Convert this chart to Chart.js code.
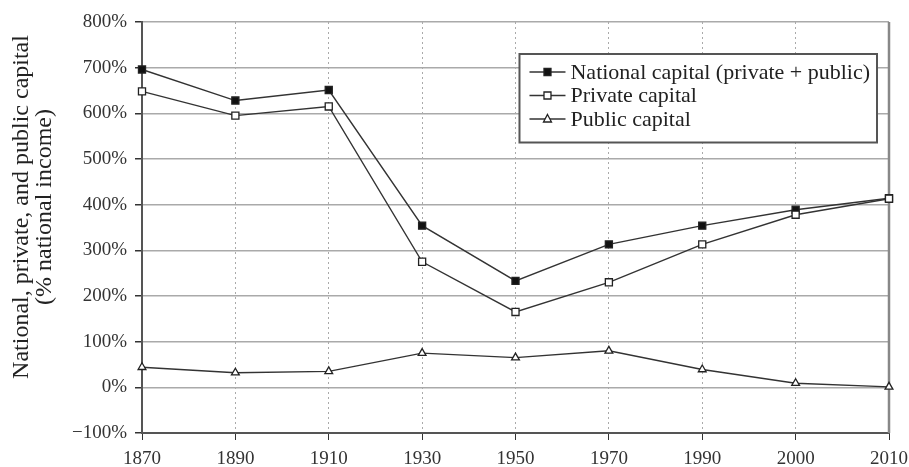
<!DOCTYPE html>
<html>
<head>
<meta charset="UTF-8">
<title>National, private and public capital</title>
<script src="https://cdn.jsdelivr.net/npm/chart.js@4.4.1/dist/chart.umd.min.js"></script>
<style>
	html, body { margin: 0; padding: 0; background: #fff; }
</style>
</head>
<body>
<canvas id="myChart" width="909" height="467"></canvas>
<script>
	// values (% of national income)
	let years = ['1870', '1890', '1910', '1930', '1950', '1970', '1990', '2000', '2010'];
	let national = [696, 628, 651, 354, 233, 313, 354, 389, 414];
	let privateCap = [648, 595, 615, 275, 165, 230, 313, 378, 413];
	let publicCap = [44, 32, 35, 75, 65, 80, 39, 9, 1];
	let seriesNames = ['National capital (private + public)', 'Private capital', 'Public capital'];
	let yTitle = ['National, private, and public capital', '(% national income)'];

	let serif = "'Liberation Serif', 'DejaVu Serif', serif";
	let ink = '#333';

	function drawMarker(ctx, style, x, y, filled) {
		ctx.save();
		ctx.lineWidth = 1.3;
		ctx.strokeStyle = '#222';
		ctx.fillStyle = filled ? '#111' : '#fff';
		ctx.beginPath();
		if (style == 'triangle') {
			ctx.moveTo(x, y - 4.5);
			ctx.lineTo(x + 4, y + 3);
			ctx.lineTo(x - 4, y + 3);
			ctx.closePath();
		} else {
			ctx.rect(x - 3.5, y - 3.5, 7, 7);
		}
		ctx.fill();
		ctx.stroke();
		ctx.restore();
	}

	// right edge of the frame (under the marks) and the rotated y title
	let frame = {
		id: 'frame',
		beforeDatasetsDraw(chart) {
			let ctx = chart.ctx;
			let a = chart.chartArea;
			ctx.save();
			ctx.strokeStyle = '#888';
			ctx.lineWidth = 2.5;
			ctx.beginPath();
			ctx.moveTo(a.right, a.top);
			ctx.lineTo(a.right, a.bottom);
			ctx.stroke();

			ctx.translate(22, 207);
			ctx.rotate(-Math.PI / 2);
			ctx.fillStyle = '#222';
			ctx.textAlign = 'center';
			ctx.textBaseline = 'middle';
			ctx.font = '24px ' + serif;
			ctx.fillText(yTitle[0], 0, 0);
			ctx.fillText(yTitle[1], 0, 23);
			ctx.restore();
		}
	};

	// the boxed legend inside the plot
	let boxLegend = {
		id: 'boxLegend',
		afterDatasetsDraw(chart) {
			let ctx = chart.ctx;
			let a = chart.chartArea;
			ctx.save();
			ctx.font = '22px ' + serif;
			let w = 0;
			chart.data.datasets.forEach(function(ds) {
				w = Math.max(w, ctx.measureText(ds.label).width);
			});
			let right = a.right - 12;
			let top = a.top + 32;
			let left = right - w - 58;
			let lineH = 23.5;
			let h = lineH * 3 + 18;
			ctx.fillStyle = '#fff';
			ctx.fillRect(left, top, right - left, h);
			ctx.strokeStyle = '#555';
			ctx.lineWidth = 2;
			ctx.strokeRect(left, top, right - left, h);

			chart.data.datasets.forEach(function(ds, i) {
				let y = top + 18 + i * lineH;
				ctx.strokeStyle = ink;
				ctx.lineWidth = 1.3;
				ctx.beginPath();
				ctx.moveTo(left + 10, y);
				ctx.lineTo(left + 46, y);
				ctx.stroke();
				drawMarker(ctx, ds.pointStyle, left + 28, y, ds.pointBackgroundColor == '#111');
				ctx.fillStyle = '#222';
				ctx.textBaseline = 'middle';
				ctx.textAlign = 'left';
				ctx.fillText(ds.label, left + 51, y + 1);
			});
			ctx.restore();
		}
	};

	function lineSet(label, data, style, fill, order) {
		return {
			label: label,
			data: data,
			order: order,
			clip: false,
			borderColor: ink,
			borderWidth: 1.4,
			pointStyle: style,
			pointRadius: style == 'triangle' ? 4.5 : 5,
			pointBorderWidth: 1.3,
			pointBorderColor: '#222',
			pointBackgroundColor: fill,
			tension: 0
		};
	}

	new Chart('myChart', {
		type: 'line',
		data: {
			labels: years,
			datasets: [
				lineSet(seriesNames[0], national, 'rect', '#111', 1),
				lineSet(seriesNames[1], privateCap, 'rect', '#fff', 0),
				lineSet(seriesNames[2], publicCap, 'triangle', '#fff', 2)
			]
		},
		plugins: [frame, boxLegend],
		options: {
			responsive: false,
			animation: false,
			devicePixelRatio: 1,
			layout: { padding: { top: 22, right: 20, left: 0, bottom: 0 } },
			plugins: {
				legend: { display: false },
				tooltip: { enabled: false }
			},
			scales: {
				x: {
					offset: false,
					grid: {
						color: '#aaa',
						lineWidth: 1,
						tickColor: ink,
						tickLength: 7
					},
					border: { color: '#555', width: 2, dash: [2, 3] },
					ticks: {
						color: ink,
						padding: 8,
						maxRotation: 0,
						autoSkip: false,
						font: { family: serif, size: 19 }
					},
					afterFit: function(scale) {
						scale.height = 34;
						scale.paddingLeft = 0;
						scale.paddingRight = 0;
					}
				},
				y: {
					min: -100,
					max: 800,
					grid: {
						color: '#aaa',
						lineWidth: 1.5,
						tickColor: ink,
						tickLength: 7
					},
					border: { color: '#555', width: 2 },
					ticks: {
						stepSize: 100,
						color: ink,
						padding: 8,
						font: { family: serif, size: 19 },
						callback: function(v) { return (v < 0 ? '\u2212' + (-v) : v) + '%'; }
					},
					afterFit: function(scale) { scale.width = 142; }
				}
			}
		}
	});
</script>
</body>
</html>
